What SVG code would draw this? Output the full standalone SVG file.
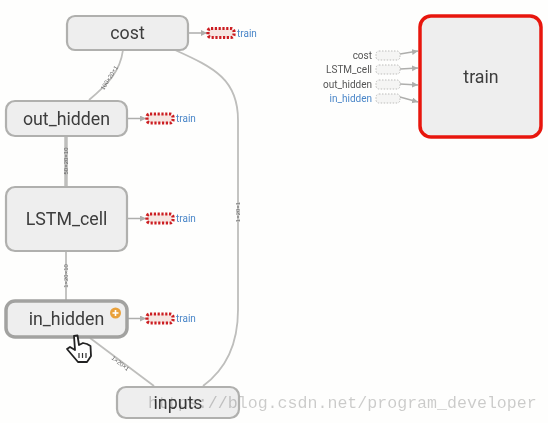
<svg xmlns="http://www.w3.org/2000/svg" width="548" height="423" viewBox="0 0 548 423">
<style>
.n{fill:#eeeeee;stroke:#b0b0ae;stroke-width:2.2}
.t{font-family:"Roboto","Liberation Sans",sans-serif;fill:#3d3d3d;text-anchor:middle;font-size:17.800px}
.e{fill:none;stroke:#bebebc;stroke-width:1.800}
.el{font-family:"Liberation Sans",sans-serif;font-size:6px;fill:#666;text-anchor:middle}
.a{fill:none;stroke:#aeaeac;stroke-width:1.500;marker-end:url(#ah)}
.b{fill:#f6e6e2;stroke:#cc1f22;stroke-width:3.200;stroke-dasharray:2.200 1.600}
.s{fill:#f5f5f4;stroke:#bdbdbb;stroke-width:1;stroke-dasharray:1.500 1.500}
.tr{font-family:"Roboto","Liberation Sans",sans-serif;font-size:10px;fill:#4a86c8}
.sl{font-family:"Roboto","Liberation Sans",sans-serif;font-size:10px;fill:#555;text-anchor:end}
</style>
<defs>
<marker id="ah" markerWidth="7" markerHeight="7" refX="6" refY="3" orient="auto" markerUnits="userSpaceOnUse"><path d="M0 0L6 3L0 6z" fill="#aeaeac"/></marker>
<filter id="soft" filterUnits="userSpaceOnUse" x="0" y="0" width="548" height="423"><feGaussianBlur stdDeviation="0.350"/></filter>
<g id="trainChip"><path class="a" d="M0 0H19"/><rect class="b" x="20" y="-4.500" width="26" height="9" rx="3"/><text class="tr" x="49" y="3.500">train</text></g>
</defs>
<rect width="548" height="423" fill="#fefefd"/>
<g filter="url(#soft)">
<g id="connectors">
<path class="e" d="M123 50C120 72 108 84 89 100"/>
<path class="e" d="M66 136V186" style="stroke-width:3.500"/>
<path class="e" d="M66 251V301"/>
<path class="e" d="M175 50C215 68 238 80 238 120V310C238 350 222 372 203 386"/>
<path class="e" d="M90 338L154 386"/>
<text class="el" transform="translate(111 79) rotate(-58)">100×20×1</text>
<text class="el" transform="translate(68 161) rotate(-90)">50×20×10</text>
<text class="el" transform="translate(68 276) rotate(-90)">1×20×10</text>
<text class="el" transform="translate(240 212) rotate(-90)">1×20×1</text>
<text class="el" transform="translate(119 365) rotate(38)">1×20×1</text>
<use href="#trainChip" x="188" y="33"/>
<use href="#trainChip" x="127" y="118.500"/>
<use href="#trainChip" x="127" y="218.500"/>
<use href="#trainChip" x="127" y="318.500"/>
<path class="a" d="M400 54L418 51"/>
<path class="a" d="M400 69L418 68"/>
<path class="a" d="M400 84L418 85"/>
<path class="a" d="M400 97L418 102"/>
</g>
<g id="cost"><rect class="n" x="67" y="16" width="121" height="34" rx="8"/><text class="t" x="127.500" y="39">cost</text></g>
<g id="out_hidden"><rect class="n" x="6" y="101" width="121" height="35" rx="9"/><text class="t" x="66.500" y="125">out_hidden</text></g>
<g id="LSTM_cell"><rect class="n" x="6" y="187" width="121" height="64" rx="9"/><text class="t" x="66.500" y="225">LSTM_cell</text></g>
<g id="in_hidden"><rect class="n" x="6" y="301" width="121" height="36" rx="9" style="stroke:#a2a2a0;stroke-width:3.500"/><text class="t" x="66.500" y="325">in_hidden</text>
<circle cx="115.500" cy="313" r="5.500" fill="#e9a13b"/><path d="M112.500 313H118.500M115.500 310V316" stroke="#fff" stroke-width="1.600"/></g>
<g id="cursor"><path d="M74 336L77.500 335.500L79 345L83 343L87 344L90.500 346L91 356L87 362H78L67 349L70 347L75 350z" fill="#fff" stroke="#222" stroke-width="1.800" stroke-linejoin="round"/><path d="M79 353V358M82.500 353V358M86 353V358" stroke="#333" stroke-width="1.200"/></g>
<g id="inputs"><rect class="n" x="117" y="387" width="122" height="31" rx="9"/><text class="t" x="178" y="409">inputs</text></g>
<g id="train"><rect x="420" y="16" width="121" height="121" rx="11" fill="#eeeeee" stroke="#e8190f" stroke-width="3.500"/><text class="t" x="481" y="83">train</text></g>
<g id="subnodes">
<text class="sl" x="372" y="59">cost</text><rect class="s" x="376" y="51" width="24" height="9" rx="3"/>
<text class="sl" x="372" y="73">LSTM_cell</text><rect class="s" x="376" y="65" width="24" height="9" rx="3"/>
<text class="sl" x="372" y="88">out_hidden</text><rect class="s" x="376" y="80" width="24" height="9" rx="3"/>
<text class="sl" x="372" y="102" style="fill:#4a86c8">in_hidden</text><rect class="s" x="376" y="94" width="24" height="9" rx="3"/>
</g>
<text id="watermark" x="148" y="408" font-family="'Liberation Mono',monospace" font-size="16.620" fill="#000" fill-opacity="0.2">https://blog.csdn.net/program_developer</text>
</g>
</svg>
